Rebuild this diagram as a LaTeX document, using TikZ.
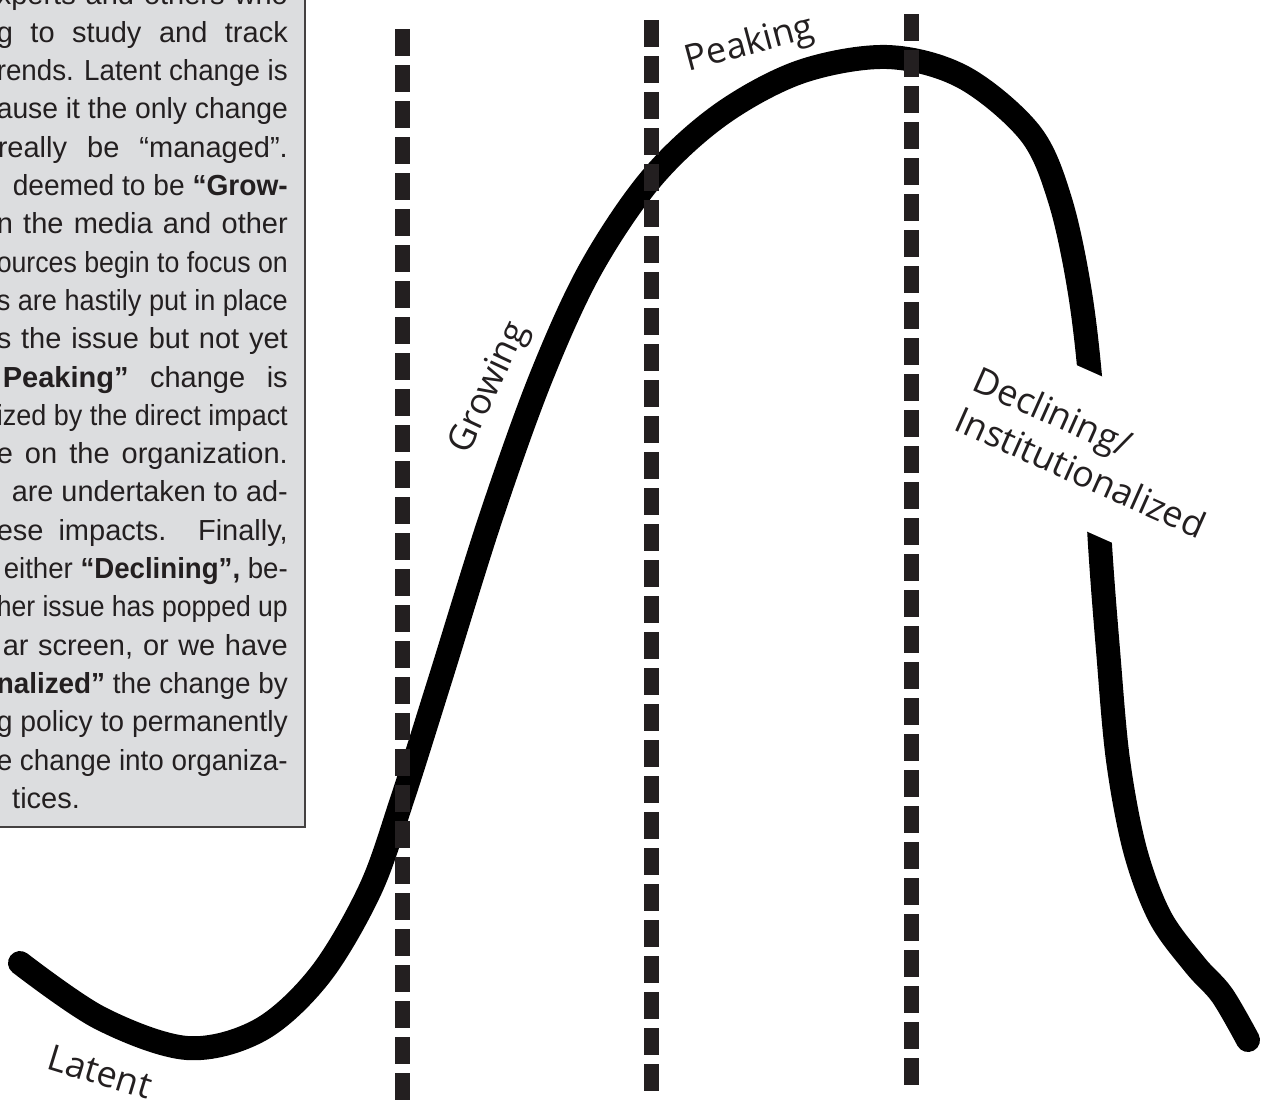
\documentclass[tikz,border=0pt]{standalone}
\usepackage{fontspec}
\setmainfont{Liberation Sans}
\newfontfamily\handfont{Open Sans}
\usetikzlibrary{calc}

\definecolor{boxgray}{HTML}{DCDDDF}
\definecolor{ink}{HTML}{231F20}

% stretch (or squeeze) one line of the side text to a given width
\newlength\fitw
\newcommand\fitline[2]{\settowidth\fitw{#2}%
  \ifdim\fitw>#1\relax\resizebox{#1}{\height}{#2}\else\makebox[#1][s]{#2}\fi}

\begin{document}
\begin{tikzpicture}[x=1pt, y=-1pt,
  divider/.style={draw=ink, line width=15pt, dash pattern=on 27pt off 9pt},
  curve/.style={line width=24pt, line cap=round, line join=round},
  stage/.style={font=\handfont\fontsize{36}{44}\selectfont, text=ink, inner sep=0pt},
  boxline/.style={anchor=base east, inner sep=0pt, text=ink,
    font=\fontsize{29}{38}\selectfont}]
  \useasboundingbox (0,0) rectangle (1261,1111);

  % side text box
  \filldraw[fill=boxgray, draw=ink!85, line width=1.5pt] (-10,-10) rectangle (305,827);
  \node[boxline] (t0) at (288,4) {\fitline{291pt}{xperts and others who}};
  \node[boxline] (t1) at (288,42.3) {\fitline{291pt}{g to study and track}};
  \node[boxline] (t2) at (288,80.6) {\fitline{291pt}{rends. Latent change is}};
  \node[boxline] (t3) at (288,118.9) {\fitline{291pt}{ause it the only change}};
  \node[boxline] (t4) at (288,157.2) {\fitline{290pt}{really be “managed”.}};
  \node[boxline] (t5) at (288,195.5) {\fitline{275pt}{deemed to be \textbf{“Grow-}}};
  \node[boxline] (t6) at (288,233.8) {\fitline{291pt}{n the media and other}};
  \node[boxline] (t7) at (288,272.1) {\fitline{291pt}{ources begin to focus on}};
  \node[boxline] (t8) at (288,310.4) {\fitline{291pt}{s are hastily put in place}};
  \node[boxline] (t9) at (288,348.7) {\fitline{291pt}{s the issue but not yet}};
  \node[boxline] (t10) at (288,387) {\fitline{285pt}{\textbf{Peaking”} change is}};
  \node[boxline] (t11) at (288,425.3) {\fitline{291pt}{ized by the direct impact}};
  \node[boxline] (t12) at (288,463.6) {\fitline{291pt}{e on the organization.}};
  \node[boxline] (t13) at (288,501.9) {\fitline{276pt}{are undertaken to ad-}};
  \node[boxline] (t14) at (288,540.2) {\fitline{291pt}{ese impacts. Finally,}};
  \node[boxline] (t15) at (288,578.5) {\fitline{284pt}{either \textbf{“Declining”,} be-}};
  \node[boxline] (t16) at (288,616.8) {\fitline{291pt}{her issue has popped up}};
  \node[boxline] (t17) at (288,655.1) {\fitline{285pt}{ar screen, or we have}};
  \node[boxline] (t18) at (288,693.4) {\fitline{291pt}{\textbf{nalized”} the change by}};
  \node[boxline] (t19) at (288,731.7) {\fitline{291pt}{g policy to permanently}};
  \node[boxline] (t20) at (288,770) {\fitline{291pt}{e change into organiza-}};
  \node[boxline, anchor=base west] (t21) at (12,808.3) {tices.};

  % the life cycle curve
  \draw[curve] plot[smooth, tension=0.55] coordinates {
    (20,963) (100,1018) (187,1048) (260,1030) (320,975) (370,890) (402,800)
    (440,680) (490,520) (540,380) (590,270) (651,179) (720,115) (800,72)
    (887,57) (963,77) (1030,133) (1060,200) (1080,293) (1092,400) (1100,545)
    (1108,650) (1118,760) (1135,850) (1160,917) (1195,965) (1222,995) (1248,1040)};
  \node[stage, fill=white, inner xsep=4pt, inner ysep=38pt, align=left, rotate=-24]
    (declining) at (1090,452) {Declining/\\Institutionalized};

  % stage boundaries
  \draw[divider] (402,29) -- (402,1100);
  \draw[divider] (651,20) -- (651,1091);
  \draw[divider] (911,14) -- (911,1085);

  \node[stage, rotate=-17] (latent) at (100,1072) {Latent};
  \node[stage, rotate=65] (growing) at (490,388) {Growing};
  \node[stage, rotate=15] (peaking) at (750,45) {Peaking};
\end{tikzpicture}
\end{document}
